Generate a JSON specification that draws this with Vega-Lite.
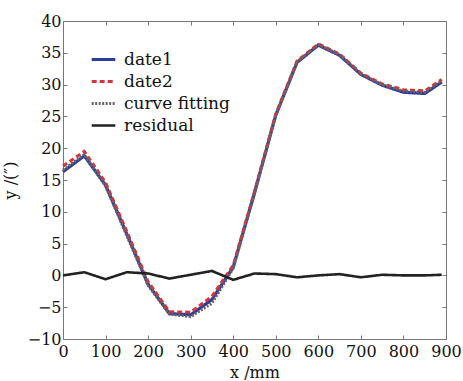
{
  "$schema": "https://vega.github.io/schema/vega-lite/v6.json",
  "width": 383,
  "height": 318,
  "autosize": {"type": "none"},
  "padding": {"left": 63, "top": 21, "right": 17, "bottom": 42},
  "background": "white",
  "config": {
    "font": "DejaVu Serif",
    "view": {"stroke": "#777", "strokeWidth": 1},
    "legend": {"labelFont": "DejaVu Serif", "labelFontSize": 17, "labelColor": "#111", "symbolType": "stroke", "symbolSize": 560, "rowPadding": -6, "labelOffset": 7, "orient": "none", "legendX": 27, "legendY": 25},
    "axis": {"labelFont": "DejaVu Serif", "titleFont": "DejaVu Serif"}
  },
  "data": {
    "values": [
      {"x": 0, "y": 16.3, "s": "date1"}, {"x": 50, "y": 18.8, "s": "date1"}, {"x": 100, "y": 14.2, "s": "date1"}, {"x": 150, "y": 6.5, "s": "date1"}, {"x": 200, "y": -1.4, "s": "date1"}, {"x": 250, "y": -6.0, "s": "date1"}, {"x": 300, "y": -6.2, "s": "date1"}, {"x": 350, "y": -3.8, "s": "date1"}, {"x": 400, "y": 1.3, "s": "date1"}, {"x": 450, "y": 13.0, "s": "date1"}, {"x": 500, "y": 25.2, "s": "date1"}, {"x": 550, "y": 33.5, "s": "date1"}, {"x": 600, "y": 36.2, "s": "date1"}, {"x": 650, "y": 34.6, "s": "date1"}, {"x": 700, "y": 31.6, "s": "date1"}, {"x": 750, "y": 29.9, "s": "date1"}, {"x": 800, "y": 28.8, "s": "date1"}, {"x": 850, "y": 28.6, "s": "date1"}, {"x": 890, "y": 30.4, "s": "date1"},
      {"x": 0, "y": 17.2, "s": "date2"}, {"x": 50, "y": 19.5, "s": "date2"}, {"x": 100, "y": 14.6, "s": "date2"}, {"x": 150, "y": 6.9, "s": "date2"}, {"x": 200, "y": -1.0, "s": "date2"}, {"x": 250, "y": -5.7, "s": "date2"}, {"x": 300, "y": -5.8, "s": "date2"}, {"x": 350, "y": -3.3, "s": "date2"}, {"x": 400, "y": 1.6, "s": "date2"}, {"x": 450, "y": 13.2, "s": "date2"}, {"x": 500, "y": 25.4, "s": "date2"}, {"x": 550, "y": 33.7, "s": "date2"}, {"x": 600, "y": 36.4, "s": "date2"}, {"x": 650, "y": 34.8, "s": "date2"}, {"x": 700, "y": 31.8, "s": "date2"}, {"x": 750, "y": 30.1, "s": "date2"}, {"x": 800, "y": 29.2, "s": "date2"}, {"x": 850, "y": 29.0, "s": "date2"}, {"x": 890, "y": 30.8, "s": "date2"},
      {"x": 0, "y": 16.6, "s": "curve fitting"}, {"x": 50, "y": 19.0, "s": "curve fitting"}, {"x": 100, "y": 14.0, "s": "curve fitting"}, {"x": 150, "y": 6.2, "s": "curve fitting"}, {"x": 200, "y": -1.6, "s": "curve fitting"}, {"x": 250, "y": -6.1, "s": "curve fitting"}, {"x": 300, "y": -6.5, "s": "curve fitting"}, {"x": 350, "y": -4.4, "s": "curve fitting"}, {"x": 400, "y": 1.1, "s": "curve fitting"}, {"x": 450, "y": 12.8, "s": "curve fitting"}, {"x": 500, "y": 25.2, "s": "curve fitting"}, {"x": 550, "y": 33.6, "s": "curve fitting"}, {"x": 600, "y": 36.3, "s": "curve fitting"}, {"x": 650, "y": 34.7, "s": "curve fitting"}, {"x": 700, "y": 31.7, "s": "curve fitting"}, {"x": 750, "y": 30.0, "s": "curve fitting"}, {"x": 800, "y": 29.0, "s": "curve fitting"}, {"x": 850, "y": 28.8, "s": "curve fitting"}, {"x": 890, "y": 30.6, "s": "curve fitting"},
      {"x": 0, "y": 0.0, "s": "residual"}, {"x": 50, "y": 0.5, "s": "residual"}, {"x": 100, "y": -0.6, "s": "residual"}, {"x": 150, "y": 0.5, "s": "residual"}, {"x": 200, "y": 0.3, "s": "residual"}, {"x": 250, "y": -0.5, "s": "residual"}, {"x": 300, "y": 0.1, "s": "residual"}, {"x": 350, "y": 0.7, "s": "residual"}, {"x": 400, "y": -0.7, "s": "residual"}, {"x": 450, "y": 0.3, "s": "residual"}, {"x": 500, "y": 0.2, "s": "residual"}, {"x": 550, "y": -0.3, "s": "residual"}, {"x": 600, "y": 0.0, "s": "residual"}, {"x": 650, "y": 0.2, "s": "residual"}, {"x": 700, "y": -0.3, "s": "residual"}, {"x": 750, "y": 0.1, "s": "residual"}, {"x": 800, "y": 0.0, "s": "residual"}, {"x": 850, "y": 0.0, "s": "residual"}, {"x": 890, "y": 0.1, "s": "residual"}
    ]
  },
  "layer": [
    {
      "mark": {"type": "line", "opacity": 0},
      "encoding": {
        "x": {"field": "x", "type": "quantitative", "scale": {"domain": [0, 900], "nice": false},
              "axis": {"orient": "top", "labels": false, "title": null, "grid": false, "domain": false, "tickSize": -4, "tickColor": "#777", "values": [0,100,200,300,400,500,600,700,800,900]}},
        "y": {"field": "y", "type": "quantitative", "scale": {"domain": [-10, 40], "nice": false},
              "axis": {"orient": "right", "labels": false, "title": null, "grid": false, "domain": false, "tickSize": -4, "tickColor": "#777", "values": [-10,-5,0,5,10,15,20,25,30,35,40]}},
        "detail": {"field": "s"}
      }
    },
    {
      "mark": {"type": "line"},
      "encoding": {
        "x": {"field": "x", "type": "quantitative", "scale": {"domain": [0, 900], "nice": false},
              "axis": {"orient": "bottom", "title": "x /mm", "grid": false, "domainColor": "#777", "tickColor": "#777", "tickSize": -4, "labelPadding": 8, "labelFontSize": 16, "labelColor": "#111", "titleFontSize": 16, "titleFontWeight": "normal", "titleColor": "#111", "titlePadding": 5, "values": [0,100,200,300,400,500,600,700,800,900], "labelFlush": false}},
        "y": {"field": "y", "type": "quantitative", "scale": {"domain": [-10, 40], "nice": false},
              "axis": {"orient": "left", "title": "y /(″)", "grid": false, "domainColor": "#777", "tickColor": "#777", "tickSize": -4, "labelPadding": 6, "labelFontSize": 16, "labelColor": "#111", "titleFontSize": 16, "titleFontWeight": "normal", "titleColor": "#111", "titlePadding": 9, "values": [-10,-5,0,5,10,15,20,25,30,35,40]}},
        "color": {"field": "s", "type": "nominal",
                  "scale": {"domain": ["date1", "date2", "curve fitting", "residual"], "range": ["#2f3a9e", "#d2353b", "#666666", "#222222"]},
                  "legend": {"title": null}},
        "strokeDash": {"field": "s", "type": "nominal",
                  "scale": {"domain": ["date1", "date2", "curve fitting", "residual"], "range": [[1, 0], [5, 3], [2, 1.5], [1, 0]]},
                  "legend": {"title": null}},
        "strokeWidth": {"field": "s", "type": "nominal",
                  "scale": {"domain": ["date1", "date2", "curve fitting", "residual"], "range": [3.2, 2.6, 1.8, 1.0]},
                  "legend": {"title": null}},
        "order": {"field": "x"}
      }
    }
  ],
  "resolve": {"axis": {"x": "independent", "y": "independent"}}
}
